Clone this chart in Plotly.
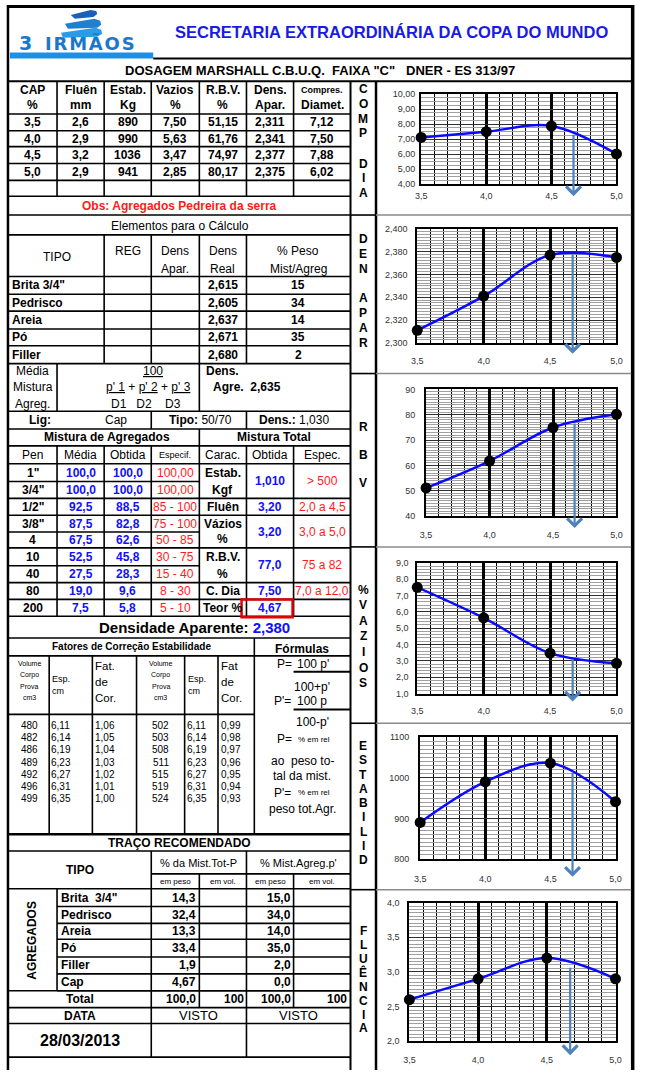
import plotly.graph_objects as go

W, H = 648, 1075
FONT = 'Liberation Sans, Arial, Helvetica, sans-serif'
BLUE = '#1010FF'
RED = '#FF1A1A'
NB = '\u00a0'
HS = '\u200a'

# ---------------- data ----------------
cap = [3.5, 4.0, 4.5, 5.0]
fluencia = [2.6, 2.9, 3.2, 2.9]
estabilidade = [890, 990, 1036, 941]
vazios = [7.50, 5.63, 3.47, 2.85]
rbv = [51.15, 61.76, 74.97, 80.17]
dens_apar = [2.311, 2.341, 2.377, 2.375]
compres_diam = [7.12, 7.50, 7.88, 6.02]

teor = 4.67
# value of each curve at the optimum binder content (arrow start)
arrow_top = [7.40, 2.379, 77.1, 3.18, 1016, 3.08]

agg_tipo = ['Brita 3/4"', 'Pedrisco', 'Areia', 'Pó', 'Filler']
agg_dens_real = [2.615, 2.605, 2.637, 2.671, 2.680]
agg_peso = [15, 34, 14, 35, 2]
dens_agre = 2.635
lig_dens = 1.030

pen = ['1"', '3/4"', '1/2"', '3/8"', '4', '10', '40', '80', '200']
media = [100.0, 100.0, 92.5, 87.5, 67.5, 52.5, 27.5, 19.0, 7.5]
obtida = [100.0, 100.0, 88.5, 82.8, 62.6, 45.8, 28.3, 9.6, 5.8]
especif = ['100,00', '100,00', '85 - 100', '75 - 100', '50 - 85', '30 - 75', '15 - 40', '8 - 30', '5 - 10']

mt_carac = [['Estab.', 'Kgf'], ['Fluên'], ['Vázios', '%'], ['R.B.V.', '%'], ['C. Dia'], ['Teor %']]
mt_obtida = [1.010, 3.20, 3.20, 77.0, 7.50, 4.67]
mt_dec = [3, 2, 2, 1, 2, 2]
mt_espec = ['&gt; 500', '2,0 a 4,5', '3,0 a 5,0', '75 a 82', '7,0 a 12,0', '']
dens_aparente = 2.380

fc_vol1 = [480, 482, 486, 489, 492, 496, 499]
fc_esp = [6.11, 6.14, 6.19, 6.23, 6.27, 6.31, 6.35]
fc_fat1 = [1.06, 1.05, 1.04, 1.03, 1.02, 1.01, 1.00]
fc_vol2 = [502, 503, 508, 511, 515, 519, 524]
fc_fat2 = [0.99, 0.98, 0.97, 0.96, 0.95, 0.94, 0.93]

traco_tipo = ['Brita  3/4"', 'Pedrisco', 'Areia', 'Pó', 'Filler', 'Cap']
traco_mist_peso = [14.3, 32.4, 13.3, 33.4, 1.9, 4.67]
traco_agreg_peso = [15.0, 34.0, 14.0, 35.0, 2.0, 0.0]
traco_total = [100.0, 100, 100.0, 100]
data_ensaio = '28/03/2013'


# ---------------- helpers ----------------
def X(p):
    return p / W


def Y(p):
    return 1 - p / H


def fmt(v, nd):
    return f'{v:.{nd}f}'.replace('.', ',')


def fmt_auto(v):
    nd = 1 if abs(round(v * 10) - v * 10) < 1e-9 else 2
    return fmt(v, nd)


shapes, ann = [], []


def L(x0, y0, x1, y1, w=1.6, c='black'):
    shapes.append(dict(type='line', xref='paper', yref='paper', x0=X(x0), y0=Y(y0),
                       x1=X(x1), y1=Y(y1), line=dict(color=c, width=w), layer='above'))


def RECT(x0, y0, x1, y1, w=1.6, c='black', fill=None):
    d = dict(type='rect', xref='paper', yref='paper', x0=X(x0), y0=Y(y1), x1=X(x1), y1=Y(y0),
             line=dict(color=c, width=w), layer='above')
    if fill:
        d['fillcolor'] = fill
    shapes.append(d)


def POLY(pts, fill):
    d = 'M' + 'L'.join(f'{X(x):.5f},{Y(y):.5f}' for x, y in pts) + 'Z'
    shapes.append(dict(type='path', xref='paper', yref='paper', path=d, fillcolor=fill,
                       line=dict(width=0), layer='above'))


def T(x, y, s, size=12, bold=False, color='black', anchor='center', family=FONT, angle=0):
    ann.append(dict(xref='paper', yref='paper', x=X(x), y=Y(y),
                    text=f'<b>{s}</b>' if bold else s, showarrow=False,
                    xanchor=anchor, yanchor='middle', textangle=angle, borderpad=0,
                    font=dict(family=family, size=size, color=color)))


# ---------------- header ----------------
L(1, 1.5, 639, 1.5, w=3)
L(2, 0, 2, H, w=2.5)
L(638.5, 0, 638.5, H, w=3.5)
RECT(4, 48, 150, 54, w=0, c='rgba(0,0,0,0)', fill='#1E8FE6')
L(150, 54, 638, 54, w=2)
L(2, 77, 638, 77, w=2)

# logo
POLY([(66, 10), (86, 5), (92, 6), (93, 9), (89, 12), (70, 14)], '#1B5FB8')
POLY([(60, 19), (90, 14), (96, 16), (97, 20), (93, 23), (63, 24)], '#1F7FD0')
POLY([(56, 28), (91, 23), (97, 25), (98, 29), (93, 32), (58, 33)], '#2A9BE6')
T(20, 38, '3', 19, True, '#1A78CC', family='DejaVu Sans, sans-serif')
T(86, 38, HS.join('IRMÃOS'), 18, True, '#1A78CC', family='DejaVu Sans, sans-serif')

T(393, 27, 'SECRETARIA EXTRAORDINÁRIA DA COPA DO MUNDO', 16.5, True, '#1A1AE6')
T(320, 66, f'DOSAGEM MARSHALL C.B.U.Q.{NB}{NB}FAIXA "C"{NB}{NB}{NB}DNER - ES 313/97', 13, True)

# ---------------- vertical frame of table / letter column ----------------
L(351, 77, 351, H, w=2)
L(377, 77, 377, H, w=2.5)
for ysep in [212, 372, 547, 725, 893]:
    L(351, ysep, 377, ysep, w=1.6)
    L(377, ysep, 637, ysep, w=1.5, c='#8a8a8a')

letter_groups = [('COMP', 85, 14.8), ('DIA', 160, 14.8), ('DEN', 236, 15), ('APAR', 296, 15),
                 ('R', 426, 0), ('B', 454, 0), ('V', 482, 0), ('%VAZIOS', 590, 15.8),
                 ('ESTABILID', 748, 14.4), ('FLUÊNCIA', 935, 14)]
for word, y0, step in letter_groups:
    for k, ch in enumerate(word):
        T(364, y0 + k * step, ch, 12, True)

# ---------------- top results table ----------------
cols_x = [3, 52, 100, 148, 197, 245, 293, 351]
cx = [(a + b) / 2 for a, b in zip(cols_x[:-1], cols_x[1:])]
hdr1 = ['CAP', 'Fluên', 'Estab.', 'Vazios', 'R.B.V.', 'Dens.', 'Compres.']
hdr2 = ['%', 'mm', 'Kg', '%', '%', 'Apar.', 'Diamet.']
for j in range(7):
    T(cx[j], 86, hdr1[j], 9 if j == 6 else 12, True)
    T(cx[j], 101, hdr2[j], 12, True)
row_y = [110, 127, 143, 160, 177, 193]
for y in row_y:
    L(3, y, 351, y)
L(3, 212, 351, 212)
for x in cols_x[1:-1]:
    L(x, 77, x, 193)
for i in range(len(cap)):
    yc = (row_y[i] + row_y[i + 1]) / 2
    vals = [fmt(cap[i], 1), fmt(fluencia[i], 1), f'{estabilidade[i]}', fmt(vazios[i], 2),
            fmt(rbv[i], 2), fmt(dens_apar[i], 3), fmt(compres_diam[i], 2)]
    for j, v in enumerate(vals):
        T(cx[j], yc, v, 12, True)
T(177, 203, 'Obs: Agregados Pedreira da serra', 12, True, RED)

# ---------------- elementos para o calculo ----------------
T(177, 223, 'Elementos para o Cálculo', 12)
L(3, 232, 351, 232)
L(3, 274, 351, 274)
for x in [100, 148, 197, 245]:
    L(x, 232, x, 362)
T(52, 254, 'TIPO', 12)
T(124, 248, 'REG', 12)
T(172.5, 248, 'Dens', 12)
T(172.5, 266, 'Apar.', 12)
T(221, 248, 'Dens', 12)
T(221, 266, 'Real', 12)
T(298, 248, '% Peso', 12)
T(298, 266, 'Mist/Agreg', 12)
el_y = [274, 292, 309, 327, 344, 362]
for i in range(5):
    yc = (el_y[i] + el_y[i + 1]) / 2
    L(3, el_y[i + 1], 351, el_y[i + 1])
    T(5, yc, agg_tipo[i], 12, True, anchor='left')
    T(221, yc, fmt(agg_dens_real[i], 3), 12, True)
    T(298, yc, f'{agg_peso[i]}', 12, True)
L(52, 362, 52, 410)
L(197, 362, 197, 410)
T(27, 369, 'Média', 12)
T(27, 386, 'Mistura', 12)
T(27, 403, 'Agreg.', 12)
T(150, 369, '<u>100</u>', 12)
T(145, 386, "<u>p' 1</u> + <u>p' 2</u> + <u>p' 3</u>", 12)
T(143, 403, f'D1{NB}{NB}{NB}D2{NB}{NB}{NB}{NB}D3', 12)
T(203, 369, 'Dens.', 12, True, anchor='left')
T(210, 386, f'Agre.{NB}{NB}{fmt(dens_agre, 3)}', 12, True, anchor='left')
L(3, 410, 351, 410)

# ---------------- ligante / misturas ----------------
L(148, 410, 148, 428)
L(245, 410, 245, 428)
T(35, 419, 'Lig:', 12, True)
T(112, 419, 'Cap', 12)
T(198, 419, '<b>Tipo:</b> 50/70', 12)
T(293, 419, f'<b>Dens.:</b> {fmt(lig_dens, 3)}', 12)
L(3, 428, 351, 428)
L(197, 428, 197, 617)
T(103, 436.5, 'Mistura de Agregados', 12, True)
T(273, 436.5, 'Mistura Total', 12, True)
L(3, 445, 351, 445)
for x in [52, 100, 148, 245, 293]:
    L(x, 445, x, 617)
hdr_m = ['Pen', 'Média', 'Obtida', 'Especif.', 'Carac.', 'Obtida', 'Espec.']
for j, h in enumerate(hdr_m):
    T(cx[j], 454, h, 9 if j == 3 else 12)
L(3, 463, 351, 463)
pen_y = [463, 481, 498, 515, 532, 548, 566, 583, 600, 617]
for i in range(len(pen)):
    yc = (pen_y[i] + pen_y[i + 1]) / 2
    L(3, pen_y[i + 1], 197, pen_y[i + 1])
    T(cx[0], yc, pen[i], 12, True)
    T(cx[1], yc, fmt(media[i], 1), 12, True, BLUE)
    T(cx[2], yc, fmt(obtida[i], 1), 12, True, BLUE)
    T(cx[3], yc, especif[i], 12, False, RED)
mt_y = [463, 498, 515, 548, 583, 600, 617]
for k in range(len(mt_carac)):
    y0, y1 = mt_y[k], mt_y[k + 1]
    L(197, y1, 351, y1)
    lines = mt_carac[k]
    if len(lines) == 2:
        T(cx[4], y0 + 9, lines[0], 12, True)
        T(cx[4], y1 - 8.5, lines[1], 12, True)
    else:
        T(cx[4], (y0 + y1) / 2, lines[0], 12, True)
    T(cx[5], (y0 + y1) / 2, fmt(mt_obtida[k], mt_dec[k]), 12, True, BLUE)
    if mt_espec[k]:
        T(cx[6], (y0 + y1) / 2, mt_espec[k], 12, False, RED)
RECT(240, 600, 292, 618, w=2.5, c='#E00000')

T(192, 628, f'Densidade Aparente: <span style="color:{BLUE}">{fmt(dens_aparente, 3)}</span>', 15, True)
L(3, 639, 351, 639)

# ---------------- fatores de correcao ----------------
L(253, 639, 253, 837)
T(128, 648, 'Fatores de Correção Estabilidade', 10, True)
T(302, 650, 'Fórmulas', 12, True)
L(3, 657, 351, 657)
for x in [44, 88, 133, 182, 216]:
    L(x, 657, x, 837)
L(3, 716, 253, 716)
for xc in [23.5, 157.5]:
    for k, w in enumerate(['Volume', 'Corpo', 'Prova', 'cm3']):
        T(xc, 665 + k * 11.3, w, 7)
for xl in [46, 184]:
    T(xl, 680, 'Esp.', 9, anchor='left')
    T(xl, 692, 'cm', 9, anchor='left')
for xl, lab in [(90, 'Fat.'), (218, 'Fat')]:
    T(xl, 667, lab, 11.5, anchor='left')
    T(xl, 683, 'de', 11.5, anchor='left')
    T(xl, 700, 'Cor.', 11.5, anchor='left')
for i in range(len(fc_vol1)):
    yc = 727 + i * 12.4
    T(23.5, yc, f'{fc_vol1[i]}', 10)
    T(45, yc, fmt(fc_esp[i], 2), 10, anchor='left')
    T(90, yc, fmt(fc_fat1[i], 2), 10, anchor='left')
    T(157.5, yc, f'{fc_vol2[i]}', 10)
    T(183, yc, fmt(fc_esp[i], 2), 10, anchor='left')
    T(218, yc, fmt(fc_fat2[i], 2), 10, anchor='left')

T(284, 665, 'P=', 12)
T(295, 665, "100 p'", 12, anchor='left')
L(293, 673, 351, 673, w=2)
T(312, 688, "100+p'", 12)
T(282, 703, "P'=", 12)
T(295, 703, '100 p', 12, anchor='left')
L(293, 711, 351, 711, w=2)
T(312, 724, "100-p'", 12)
T(284, 741, 'P=', 12)
T(296, 741, '% em rel', 8, anchor='left')
T(302, 763, f'ao{NB}{NB}peso to-', 12)
T(302, 778, 'tal da mist.', 12)
T(282, 795, "P'=", 12)
T(296, 795, '% em rel', 8, anchor='left')
T(302, 812, 'peso tot.Agr.', 12)
L(3, 837, 351, 837, w=2.5)

# ---------------- traco recomendado ----------------
T(177, 845.5, 'TRAÇO RECOMENDADO', 12, True)
L(3, 854, 351, 854)
L(148, 854, 148, 1062)
L(245, 854, 245, 1062)
L(148, 877, 351, 877)
L(197, 877, 197, 1012)
L(293, 877, 293, 1012)
T(75, 873, 'TIPO', 12, True)
T(196.5, 866, '% da Mist.Tot-P', 11)
T(298, 866, "% Mist.Agreg.p'", 11)
for xc, lab in [(172.5, 'em peso'), (221, 'em vol.'), (269, 'em peso'), (322, 'em vol.')]:
    T(xc, 884.5, lab, 8)
L(3, 892, 351, 892)
L(52, 892, 52, 995)
T(27, 944, 'AGREGADOS', 12, True, angle=-90)
tr_y = [892, 910, 927, 943, 961, 978, 995]
for i in range(len(traco_tipo)):
    yc = (tr_y[i] + tr_y[i + 1]) / 2
    L(52, tr_y[i + 1], 351, tr_y[i + 1])
    T(55, yc, traco_tipo[i], 12, True, anchor='left')
    T(195, yc, fmt_auto(traco_mist_peso[i]), 12, True, anchor='right')
    T(291, yc, fmt_auto(traco_agreg_peso[i]), 12, True, anchor='right')
L(3, 995, 351, 995)
T(75, 1003.5, 'Total', 12, True)
T(195, 1003.5, fmt(traco_total[0], 1), 12, True, anchor='right')
T(243, 1003.5, f'{traco_total[1]}', 12, True, anchor='right')
T(291, 1003.5, fmt(traco_total[2], 1), 12, True, anchor='right')
T(348, 1003.5, f'{traco_total[3]}', 12, True, anchor='right')
L(3, 1012, 351, 1012)
T(75, 1020, 'DATA', 12, True)
T(196.5, 1020, 'VISTO', 13)
T(298, 1020, 'VISTO', 13)
L(3, 1028, 351, 1028)
T(75, 1045, data_ensaio, 16, True)
L(3, 1062, 351, 1062)

# ---------------- charts ----------------
charts = [
    dict(vals=compres_diam, rng=[4, 10], dtick=1, minor=0.25, fmt='.2f', box=(423, 622, 90, 181), tip=12, xs=2, ys=2),
    dict(vals=dens_apar, rng=[2.30, 2.40], dtick=0.02, minor=0.0025, fmt='.3f', box=(419, 622, 226, 341), tip=11, xs=8, ys=6),
    dict(vals=rbv, rng=[40, 90], dtick=10, minor=1, fmt='d', box=(428, 622, 388, 516), tip=12, xs=9, ys=7),
    dict(vals=vazios, rng=[1, 9], dtick=1, minor=0.2, fmt='.1f', box=(419, 622, 563, 695), tip=8, xs=8, ys=5),
    dict(vals=estabilidade, rng=[800, 1100], dtick=100, minor=10, fmt='d', box=(422, 621, 739, 862), tip=18, xs=10, ys=7),
    dict(vals=fluencia, rng=[2, 4], dtick=0.5, minor=0.05, fmt='.1f', box=(411, 621, 906, 1046), tip=14, xs=9, ys=6),
]

fig = go.Figure()
axes_layout = {}
tickfont = dict(family=FONT, size=9, color='#333333')
for i, ch in enumerate(charts, start=1):
    xa = 'x' if i == 1 else f'x{i}'
    ya = 'y' if i == 1 else f'y{i}'
    l, r, t, b = ch['box']
    fig.add_trace(go.Scatter(
        x=cap, y=ch['vals'], mode='lines+markers', xaxis=xa, yaxis=ya,
        line=dict(color='#0A0AFF', width=2.5, shape='spline', smoothing=1.0),
        marker=dict(color='black', size=11), cliponaxis=False, hoverinfo='skip'))
    axes_layout['xaxis' if i == 1 else f'xaxis{i}'] = dict(
        domain=[X(l), X(r)], anchor=ya, range=[3.5, 5.0], tickmode='array', tickvals=cap,
        tickformat='.1f', showgrid=True, gridcolor='black', gridwidth=2.5,
        minor=dict(tickmode='linear', tick0=3.5, dtick=0.1, showgrid=True, gridcolor='black', gridwidth=1),
        showline=True, linecolor='black', linewidth=2, mirror=True, zeroline=False, ticks='',
        tickfont=tickfont, ticklabelstandoff=ch['xs'], fixedrange=True)
    axes_layout['yaxis' if i == 1 else f'yaxis{i}'] = dict(
        domain=[Y(b), Y(t)], anchor=xa, range=ch['rng'], tickmode='linear', tick0=ch['rng'][0],
        dtick=ch['dtick'], tickformat=ch['fmt'], showgrid=True, gridcolor='#303030', gridwidth=1,
        minor=dict(tickmode='linear', tick0=ch['rng'][0], dtick=ch['minor'], showgrid=True,
                   gridcolor='#a0a0a0', gridwidth=1),
        showline=True, linecolor='black', linewidth=2, mirror=True, zeroline=False, ticks='',
        tickfont=tickfont, ticklabelstandoff=ch['ys'], fixedrange=True)
    span = ch['rng'][1] - ch['rng'][0]
    ytip = ch['rng'][0] - ch['tip'] * span / (b - t)
    ann.append(dict(xref=xa, yref=ya, x=teor, y=ytip, axref=xa, ayref=ya, ax=teor,
                    ay=arrow_top[i - 1], showarrow=True, arrowhead=4, arrowsize=1.3,
                    arrowwidth=2.2, arrowcolor='#4F81BD', text=''))

fig.update_layout(
    width=W, height=H, margin=dict(l=0, r=0, t=0, b=0, pad=0),
    paper_bgcolor='white', plot_bgcolor='white', showlegend=False,
    separators=',.', shapes=shapes, annotations=ann, font=dict(family=FONT),
    **axes_layout)

fig.write_html('out.html', config={'displayModeBar': False},
               post_script="document.body.style.margin='0px';document.body.style.padding='0px';")
